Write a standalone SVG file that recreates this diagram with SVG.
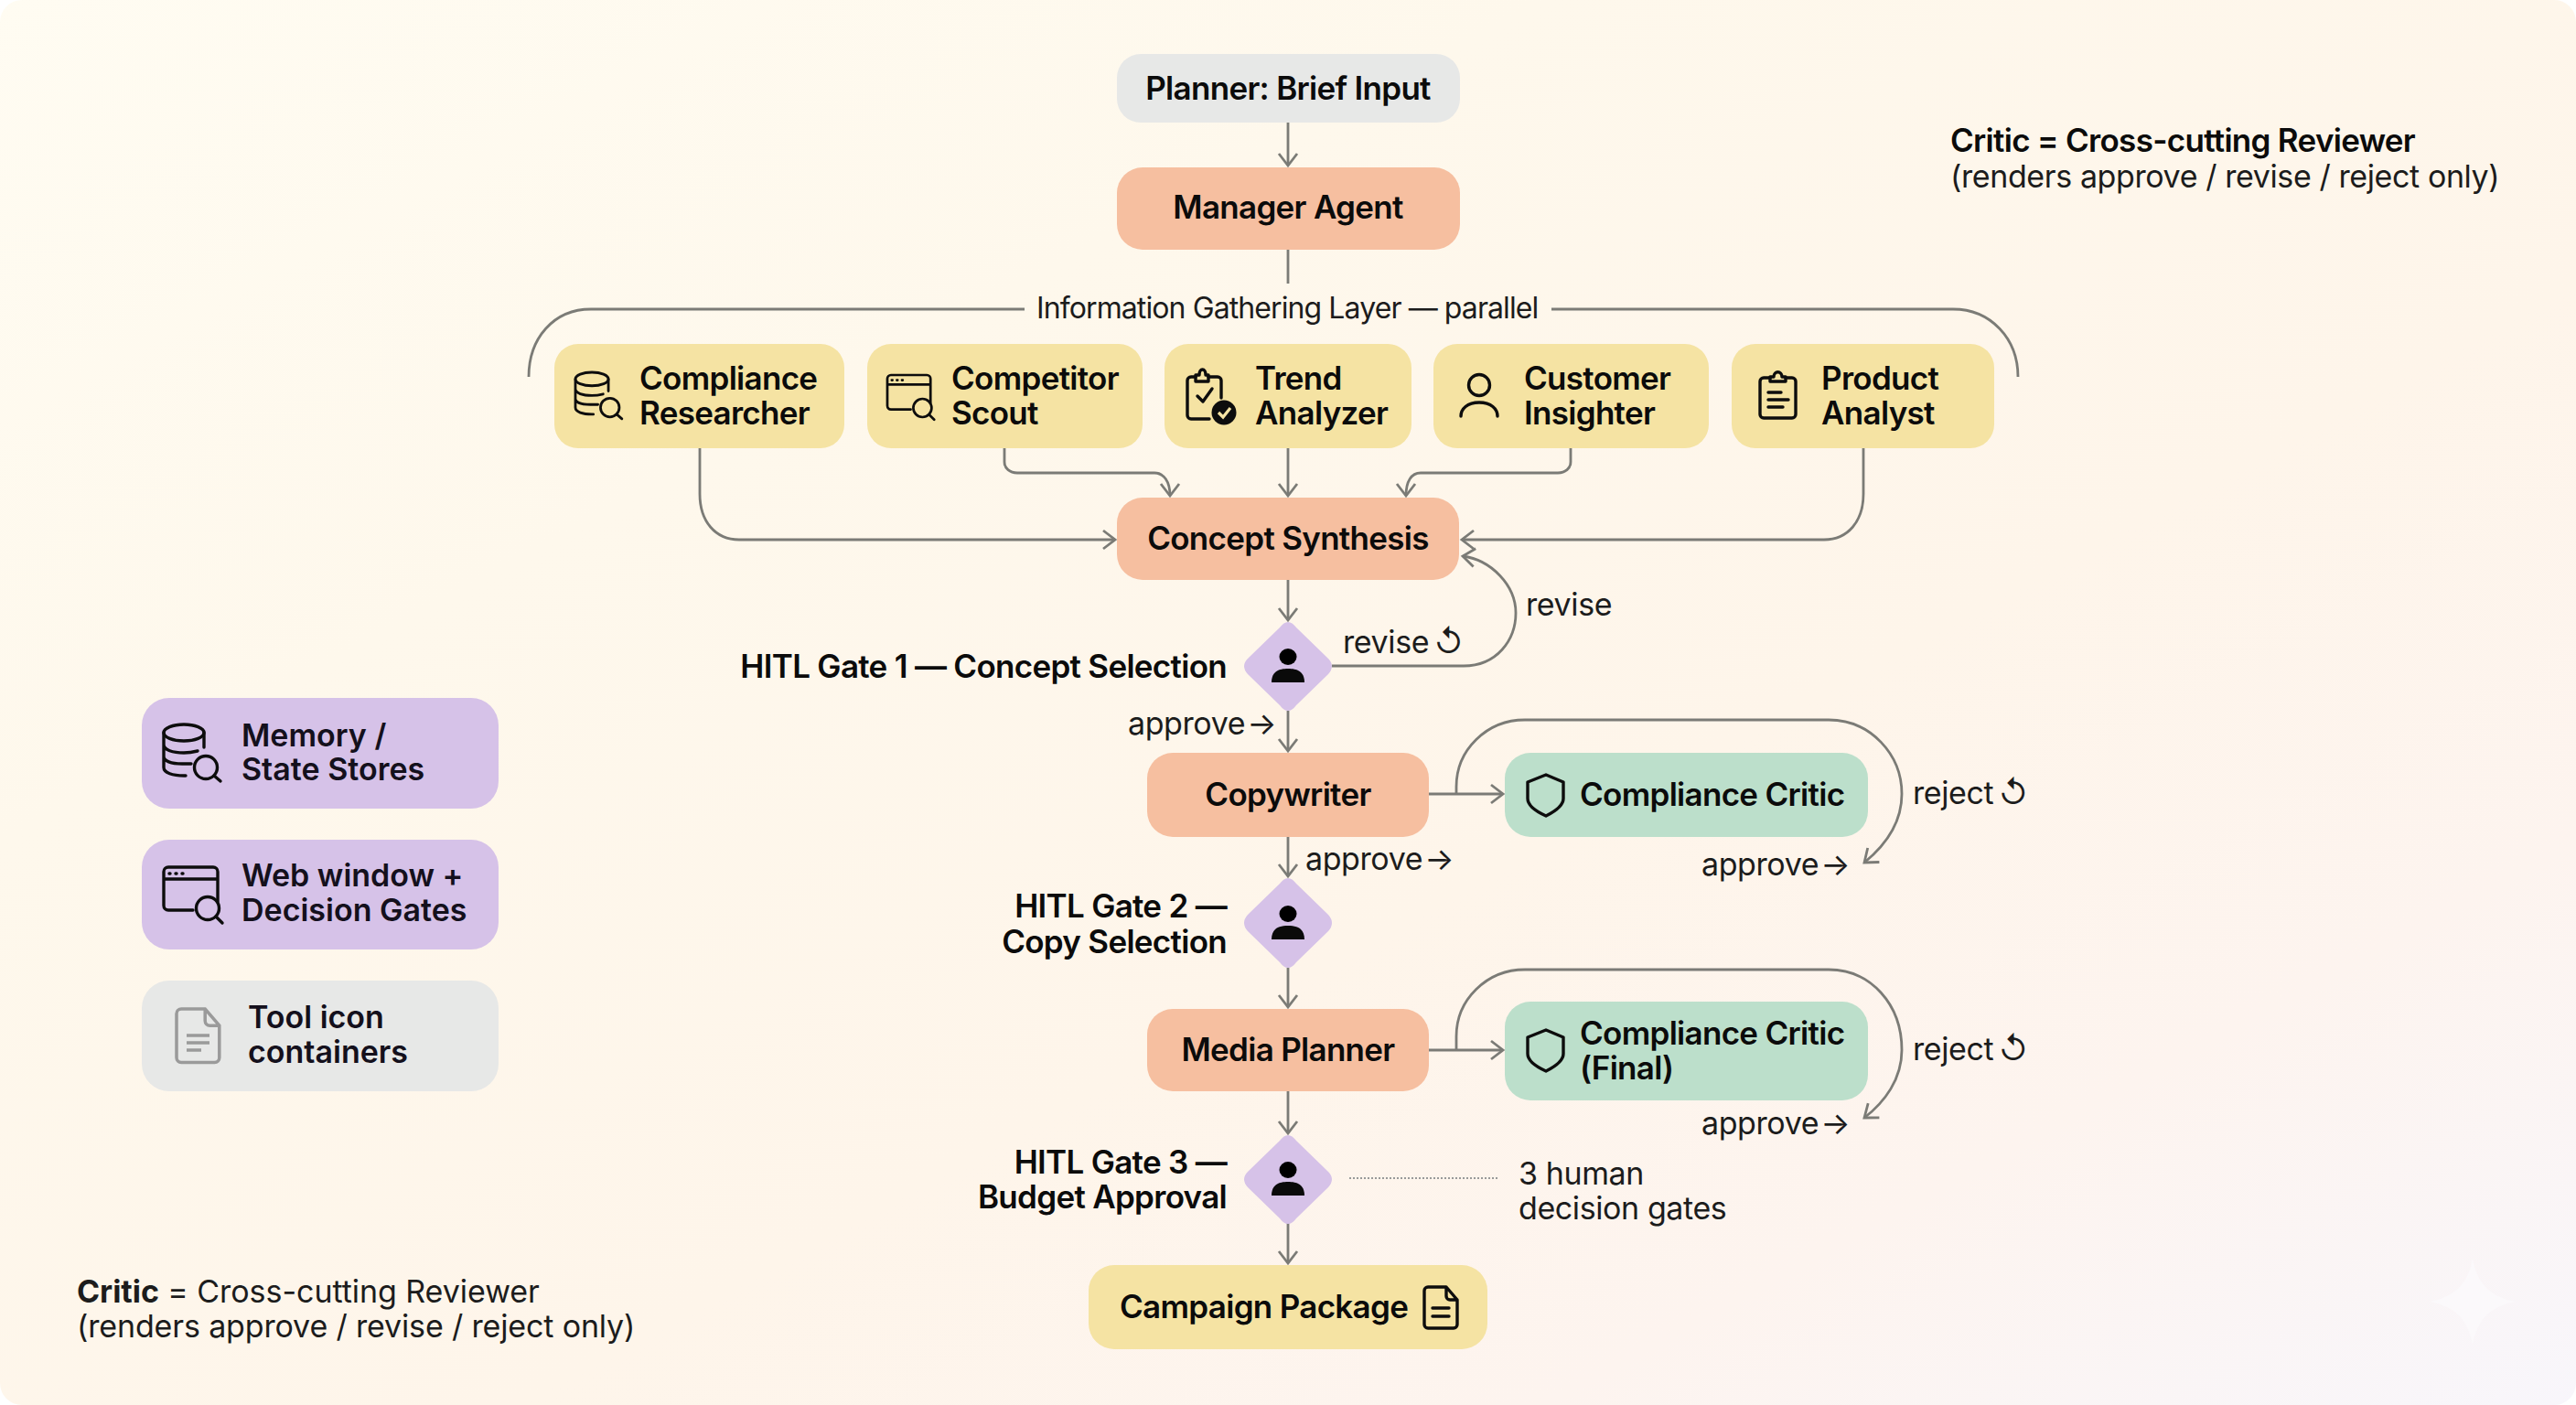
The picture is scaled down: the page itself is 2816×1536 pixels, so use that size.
<svg xmlns="http://www.w3.org/2000/svg" width="2816" height="1536" viewBox="0 0 2816 1536">
<style>
text{font-family:Inter,"Liberation Sans",sans-serif;fill:#111}
.b{font-size:35px;font-weight:600;letter-spacing:-.7px;fill:#0b0b0b}
.l{font-size:34px;font-weight:600;fill:#14101c}
.r{font-size:34px;font-weight:400;letter-spacing:-.4px;fill:#1c1c1c}
.ap{word-spacing:-7px}.rv{word-spacing:-4px}
.m{text-anchor:middle}.e{text-anchor:end}
.peach{fill:#f6bfa0}.yel{fill:#f5e3a3}.gry{fill:#e7e8e7}.grn{fill:#bcdfcb}.pur{fill:#d6c2e8}
.c path,.c line{fill:none;stroke:#7b7b76;stroke-width:2.8}
.i{fill:none;stroke:#0d0d0d;stroke-width:3.4;stroke-linecap:round;stroke-linejoin:round}
</style>
<defs>
<linearGradient id="bg" x1="0" y1="0" x2="1" y2="1">
<stop offset="0" stop-color="#fffcf2"/><stop offset=".3" stop-color="#fef8ec"/><stop offset=".6" stop-color="#fef5ea"/><stop offset=".8" stop-color="#fdf4ef"/><stop offset="1" stop-color="#f8f6fb"/>
</linearGradient>
<marker id="a" markerUnits="userSpaceOnUse" markerWidth="34" markerHeight="34" refX="22" refY="15" orient="auto"><path d="M9 5 L22 15 L9 25" fill="none" stroke="#7b7b76" stroke-width="2.8"/></marker>
<g id="db"><ellipse cx="22" cy="9" rx="22" ry="9"/><path d="M0 9V47C0 53 10 56 22 56H24M44 9V25M0 22C0 28 10 31 22 31C28 31 33 30 37 29M0 35C0 40 8 43 20 43H30"/><circle cx="46" cy="47" r="12.5"/><path d="M55 56L62 62"/></g>
<g id="web"><path d="M59 38V5A5 5 0 0 0 54 0H5A5 5 0 0 0 0 5V42A5 5 0 0 0 5 47H32M0 13H59"/><path d="M6 7H7M13 7H14M20 7H21"/><circle cx="48" cy="45" r="12.5"/><path d="M57 54L64 61"/></g>
<g id="shield"><path d="M20 0L39 8V26C39 34 30 40 20 45C9 40 0 34 0 26V8Z"/></g>
<g id="person"><ellipse cx="0" cy="-10" rx="9.5" ry="9"/><path d="M-18 18C-18 6-10 3 0 3C10 3 18 6 18 18Z" fill="#0a0a0a" stroke="none"/></g>
<path id="doc" d="M4 0H24L36 14V41A4 4 0 0 1 32 45H4A4 4 0 0 1 0 41V4A4 4 0 0 1 4 0ZM24 0V10A4 4 0 0 0 28 14H36"/>
</defs>
<rect width="2816" height="1536" fill="#ffffff"/>
<rect id="background" width="2816" height="1536" rx="24" fill="url(#bg)"/>
<path d="M2703 1376C2708 1403 2722 1418 2750 1423C2722 1428 2708 1443 2703 1470C2698 1443 2684 1428 2656 1423C2684 1418 2698 1403 2703 1376Z" fill="#fbf9fb"/>

<g id="connectors" class="c">
<line x1="1408" y1="134" x2="1408" y2="181" marker-end="url(#a)"/>
<line x1="1408" y1="273" x2="1408" y2="310"/>
<path d="M578 412C578 370 605 338 646 338H1120"/>
<path d="M1696 338H2135C2176 338 2206 370 2206 412"/>
<path d="M765 490V540C765 570 782 590 808 590H1219" marker-end="url(#a)"/>
<path d="M1098 490V505C1098 512 1104 517 1112 517H1262C1272 517 1279 526 1279 542" marker-end="url(#a)"/>
<line x1="1408" y1="490" x2="1408" y2="542" marker-end="url(#a)"/>
<path d="M1717 490V505C1717 512 1711 517 1703 517H1553C1543 517 1537 526 1537 542" marker-end="url(#a)"/>
<path d="M2037 490V540C2037 570 2020 590 1994 590H1598" marker-end="url(#a)"/>
<line x1="1408" y1="634" x2="1408" y2="678" marker-end="url(#a)"/>
<path d="M1456 728H1600C1636 728 1657 700 1657 670C1657 640 1630 612 1599 608" marker-end="url(#a)"/>
<line x1="1408" y1="777" x2="1408" y2="821" marker-end="url(#a)"/>
<line x1="1562" y1="868" x2="1643" y2="868" marker-end="url(#a)"/>
<path d="M1592 868V860C1592 820 1625 787 1667 787H1999C2045 787 2079 825 2079 868C2079 900 2060 925 2038 943" marker-end="url(#a)"/>
<line x1="1408" y1="915" x2="1408" y2="958" marker-end="url(#a)"/>
<line x1="1408" y1="1058" x2="1408" y2="1101" marker-end="url(#a)"/>
<line x1="1562" y1="1148" x2="1643" y2="1148" marker-end="url(#a)"/>
<path d="M1592 1148V1133C1592 1093 1625 1060 1667 1060H1999C2045 1060 2079 1098 2079 1148C2079 1180 2060 1205 2038 1222" marker-end="url(#a)"/>
<line x1="1408" y1="1193" x2="1408" y2="1239" marker-end="url(#a)"/>
<line x1="1408" y1="1337" x2="1408" y2="1381" marker-end="url(#a)"/>
<line x1="1475" y1="1288" x2="1638" y2="1288" style="stroke-width:2;stroke-dasharray:2 2;stroke:#999"/>
</g>

<g id="planner"><rect class="gry" x="1221" y="59" width="375" height="75" rx="26"/><text class="b m" x="1408" y="109">Planner: Brief Input</text></g>
<g id="manager"><rect class="peach" x="1221" y="183" width="375" height="90" rx="28"/><text class="b m" x="1408" y="239">Manager Agent</text></g>
<text id="info-layer" class="r" x="1133" y="348" style="font-size:32px;letter-spacing:-.9px">Information Gathering Layer — parallel</text>

<g id="researcher"><rect class="yel" x="606" y="376" width="317" height="114" rx="26"/><use href="#db" class="i" transform="translate(629 407) scale(.82)"/><text class="b" x="699" y="426">Compliance</text><text class="b" x="699" y="464">Researcher</text></g>
<g id="scout"><rect class="yel" x="948" y="376" width="301" height="114" rx="26"/><use href="#web" class="i" transform="translate(970 410) scale(.8)"/><text class="b" x="1040" y="426">Competitor</text><text class="b" x="1040" y="464">Scout</text></g>
<g id="trend"><rect class="yel" x="1273" y="376" width="270" height="114" rx="26"/><g class="i"><path d="M1321 412H1331A4 4 0 0 1 1335 416V435M1307 412H1302A4 4 0 0 0 1298 416V454A4 4 0 0 0 1302 458H1322"/><path d="M1307 417V410H1311C1311 402 1318 402 1318 410H1321V417Z"/><path d="M1309 433L1315 439L1325 425"/></g><circle cx="1338" cy="451" r="13.5" fill="#0d0d0d"/><path d="M1332 451L1337 456L1345 446" fill="none" stroke="#f5e3a3" stroke-width="3.2"/><text class="b" x="1372" y="426">Trend</text><text class="b" x="1372" y="464">Analyzer</text></g>
<g id="customer"><rect class="yel" x="1567" y="376" width="301" height="114" rx="26"/><g class="i"><circle cx="1617" cy="421" r="11.5"/><path d="M1597 455C1597 447 1604 440 1617 440C1630 440 1637 447 1637 455"/></g><text class="b" x="1666" y="426">Customer</text><text class="b" x="1666" y="464">Insighter</text></g>
<g id="product"><rect class="yel" x="1893" y="376" width="287" height="114" rx="26"/><g class="i"><path d="M1935 413H1928A4 4 0 0 0 1924 417V453A4 4 0 0 0 1928 457H1959A4 4 0 0 0 1963 453V417A4 4 0 0 0 1959 413H1952"/><path d="M1935 417V412H1939C1939 405 1948 405 1948 412H1952V417Z"/><path d="M1933 429H1947M1933 437H1955M1933 445H1949"/></g><text class="b" x="1991" y="426">Product</text><text class="b" x="1991" y="464">Analyst</text></g>

<g id="synthesis"><rect class="peach" x="1221" y="544" width="374" height="90" rx="28"/><text class="b m" x="1408" y="601">Concept Synthesis</text></g>

<g id="gate1"><path class="pur" d="M1399 686Q1408 674 1417 686L1452 720Q1460 728 1452 737L1417 771Q1408 783 1399 771L1364 737Q1356 728 1364 720Z"/><use href="#person" transform="translate(1408 728)"/></g>
<text class="b e" x="1341" y="741">HITL Gate 1 — Concept Selection</text>
<text class="r rv" x="1468" y="714">revise ↺</text>
<text class="r" x="1668" y="673">revise</text>
<text class="r ap" x="1233" y="803">approve →</text>

<g id="copywriter"><rect class="peach" x="1254" y="823" width="308" height="92" rx="28"/><text class="b m" x="1408" y="881">Copywriter</text></g>
<g id="critic1"><rect class="grn" x="1645" y="823" width="397" height="92" rx="28"/><use href="#shield" class="i" transform="translate(1670 847)"/><text class="b" x="1727" y="881">Compliance Critic</text></g>
<text class="r rv" x="2091" y="879">reject ↺</text>
<text class="r ap" x="1427" y="951">approve →</text>
<text class="r ap" x="1860" y="957">approve →</text>

<g id="gate2"><path class="pur" d="M1399 966Q1408 954 1417 966L1452 1000Q1460 1009 1452 1018L1417 1052Q1408 1064 1399 1052L1364 1018Q1356 1009 1364 1000Z"/><use href="#person" transform="translate(1408 1009)"/></g>
<text class="b e" x="1341" y="1003">HITL Gate 2 —</text><text class="b e" x="1341" y="1042">Copy Selection</text>

<g id="media"><rect class="peach" x="1254" y="1103" width="308" height="90" rx="28"/><text class="b m" x="1408" y="1160">Media Planner</text></g>
<g id="critic2"><rect class="grn" x="1645" y="1095" width="397" height="108" rx="28"/><use href="#shield" class="i" transform="translate(1670 1126)"/><text class="b" x="1727" y="1142">Compliance Critic</text><text class="b" x="1727" y="1180">(Final)</text></g>
<text class="r rv" x="2091" y="1159">reject ↺</text>
<text class="r ap" x="1860" y="1240">approve →</text>

<g id="gate3"><path class="pur" d="M1399 1247Q1408 1235 1417 1247L1452 1281Q1460 1289 1452 1298L1417 1332Q1408 1344 1399 1332L1364 1298Q1356 1289 1364 1281Z"/><use href="#person" transform="translate(1408 1289)"/></g>
<text class="b e" x="1341" y="1283">HITL Gate 3 —</text><text class="b e" x="1341" y="1321">Budget Approval</text>
<text class="r" x="1660" y="1295">3 human</text><text class="r" x="1660" y="1333">decision gates</text>

<g id="package"><rect class="yel" x="1190" y="1383" width="436" height="92" rx="28"/><text class="b" x="1224" y="1441">Campaign Package</text><use href="#doc" class="i" transform="translate(1557 1407)"/><path class="i" d="M1566 1430H1584M1566 1439H1584"/></g>

<g id="legend-memory"><rect class="pur" x="155" y="763" width="390" height="121" rx="30"/><use href="#db" class="i" transform="translate(179 792)"/><text class="l" x="264" y="816">Memory /</text><text class="l" x="264" y="853">State Stores</text></g>
<g id="legend-web"><rect class="pur" x="155" y="918" width="390" height="120" rx="30"/><use href="#web" class="i" transform="translate(179 948)"/><text class="l" x="264" y="969">Web window +</text><text class="l" x="264" y="1007">Decision Gates</text></g>
<g id="legend-tool"><rect class="gry" x="155" y="1072" width="390" height="121" rx="30"/><use href="#doc" transform="translate(193 1103) scale(1.3)" style="fill:none;stroke:#9a9a9a;stroke-width:2.7"/><path d="M204 1132H229M204 1140H229M204 1148H220" fill="none" stroke="#9a9a9a" stroke-width="3.4"/><text class="l" x="271" y="1124">Tool icon</text><text class="l" x="271" y="1162">containers</text></g>

<g id="note-top"><text class="b" x="2132" y="166">Critic = Cross-cutting Reviewer</text><text class="r" x="2132" y="205">(renders approve / revise / reject only)</text></g>
<g id="note-bottom"><text class="r" x="84" y="1424" style="letter-spacing:-.05px"><tspan font-weight="700">Critic</tspan> = Cross-cutting Reviewer</text><text class="r" x="84" y="1462" style="letter-spacing:-.15px">(renders approve / revise / reject only)</text></g>
</svg>
